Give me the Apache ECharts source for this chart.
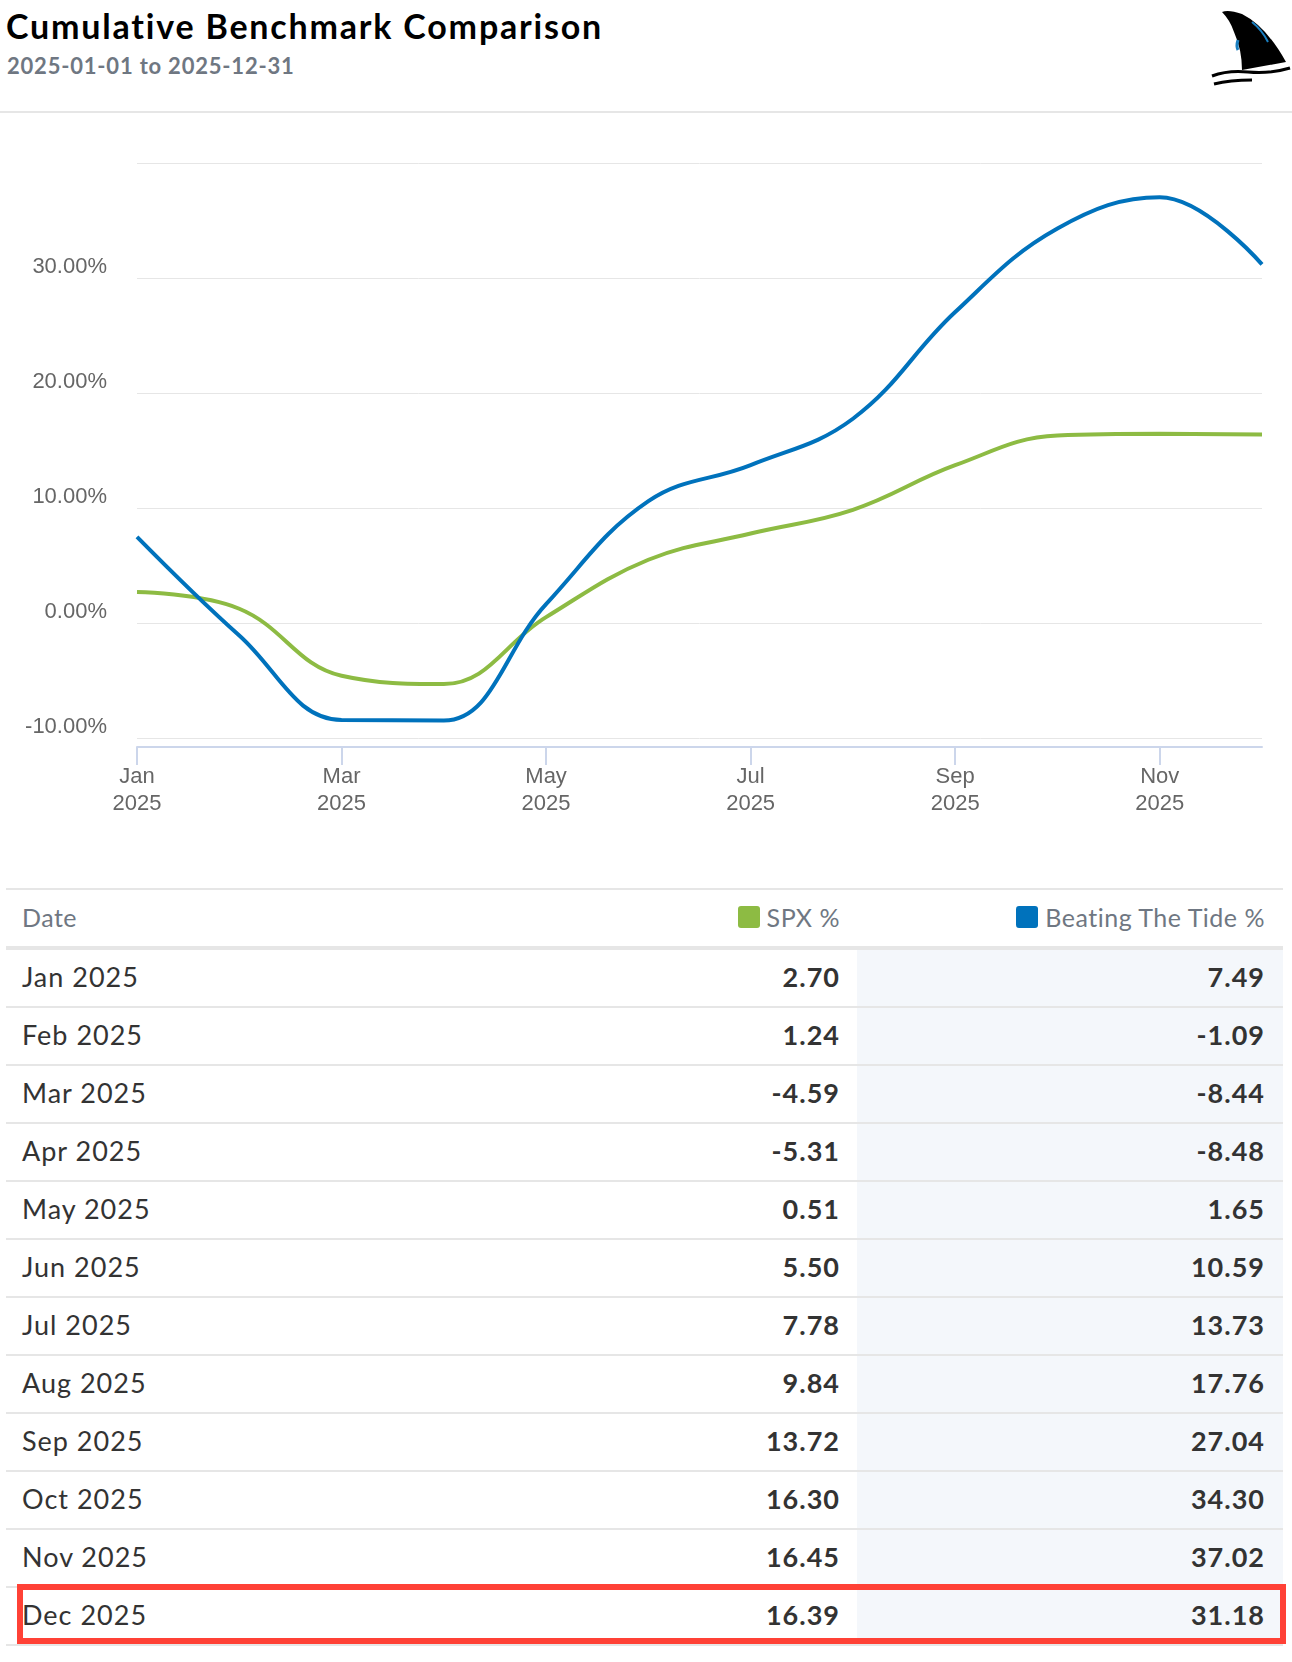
<!DOCTYPE html>
<html>
<head>
<meta charset="utf-8">
<script src="https://cdn.jsdelivr.net/npm/echarts@6/dist/echarts.min.js"></script>
<style>
  html, body { margin: 0; padding: 0; background: #fff; }
  body { width: 1292px; height: 1662px; position: relative; overflow: hidden; font-family: "Lato", "Noto Sans", sans-serif; }
  #title { position: absolute; left: 6px; top: 6px; line-height: 40px; font-size: 34px; letter-spacing: 1.8px; font-weight: 700; color: #000; white-space: nowrap; }
  #subtitle { position: absolute; left: 7px; top: 51px; line-height: 30px; font-size: 22px; letter-spacing: 0.8px; font-weight: 700; color: #6f7782; white-space: nowrap; }
  #sep { position: absolute; left: 0; top: 111px; width: 1292px; height: 2px; background: #e6e6e6; }
  #logo { position: absolute; left: 1208px; top: 6px; width: 84px; height: 84px; }
  #chart { position: absolute; left: 0; top: 120px; width: 1292px; height: 760px; }
  #tbl { position: absolute; left: 6px; top: 888px; width: 1277px; }
  .row { display: flex; align-items: stretch; border-bottom: 2px solid #e6e6e6; height: 56px; }
  .row.head { border-top: 2px solid #e6e6e6; border-bottom: 4px solid #e6e6e6; height: 56px; }
  .cell { display: flex; align-items: center; box-sizing: border-box; white-space: nowrap; }
  .c1 { width: 554px; justify-content: flex-start; padding-left: 16px; }
  .c2 { width: 297px; justify-content: flex-end; padding-right: 17px; }
  .c3 { width: 426px; justify-content: flex-end; padding-right: 18px; }
  .head .cell { font-size: 25px; letter-spacing: 0.5px; font-weight: 400; color: #6f7782; padding-bottom: 2px; }
  .body .cell { font-size: 27px; letter-spacing: 1px; color: #333; padding-bottom: 4px; }
  .body .c2, .body .c3 { font-weight: 700; }
  .body .c3 { background: #f4f7fb; }
  .sw { display: inline-block; width: 22px; height: 22px; border-radius: 3px; margin-right: 7px; }
  #hl { position: absolute; left: 17px; top: 1584px; width: 1269px; height: 60px; border: 6px solid #ff4136; box-sizing: border-box; pointer-events: none; }
</style>
</head>
<body>
<div id="title">Cumulative Benchmark Comparison</div>
<div id="subtitle">2025-01-01 to 2025-12-31</div>
<svg id="logo" viewBox="0 0 84 84" xmlns="http://www.w3.org/2000/svg">
  <path d="M14,6 Q20,3 34,8 Q58,20 78,56 Q56,60 34,64 Q34,44 26,26 Q22,14 14,6 Z" fill="#000"/>
  <path d="M44,16 Q54,24 60,36" stroke="#1a7fc1" stroke-width="2" fill="none"/>
  <path d="M30,34 Q28,40 30,44" stroke="#1a7fc1" stroke-width="3" fill="none"/>
  <path d="M4,70 Q20,64 40,66 Q62,68 82,62" stroke="#000" stroke-width="3" fill="none"/>
  <path d="M6,78 Q22,74 44,74" stroke="#000" stroke-width="3" fill="none"/>
</svg>
<div id="sep"></div>
<div id="chart"></div>
<div id="tbl">
  <div class="row head">
    <div class="cell c1">Date</div>
    <div class="cell c2"><span class="sw" style="background:#8dbb43"></span>SPX %</div>
    <div class="cell c3"><span class="sw" style="background:#0072bc"></span>Beating The Tide %</div>
  </div>
  <div id="tbody" class="body"></div>
</div>
<div id="hl"></div>
<script>
const months = ['Jan','Feb','Mar','Apr','May','Jun','Jul','Aug','Sep','Oct','Nov','Dec'];
const year = '2025';
const spxValues = [2.70, 1.24, -4.59, -5.31, 0.51, 5.50, 7.78, 9.84, 13.72, 16.30, 16.45, 16.39];
const bttValues = [7.49, -1.09, -8.44, -8.48, 1.65, 10.59, 13.73, 17.76, 27.04, 34.30, 37.02, 31.18];
const yMin = -10;
const yMax = 40;
const yStep = 10;

const tbody = document.getElementById('tbody');
months.forEach(function (m, i) {
  const row = document.createElement('div');
  row.className = 'row';
  row.innerHTML = '<div class="cell c1">' + m + ' ' + year + '</div>' +
    '<div class="cell c2">' + spxValues[i].toFixed(2) + '</div>' +
    '<div class="cell c3">' + bttValues[i].toFixed(2) + '</div>';
  tbody.appendChild(row);
});

const chart = echarts.init(document.getElementById('chart'), null, { renderer: 'canvas' });
chart.setOption({
  animation: false,
  grid: { left: 137, right: 30, top: 43, bottom: 142 },
  xAxis: {
    type: 'category',
    data: months,
    boundaryGap: false,
    offset: 9,
    axisLine: { onZero: false, lineStyle: { color: '#ccd6eb', width: 2 } },
    axisTick: { show: true, interval: 1, length: 18, lineStyle: { color: '#ccd6eb', width: 2 } },
    axisLabel: {
      interval: 1,
      margin: 16,
      color: '#666666',
      fontSize: 22,
      lineHeight: 27,
      fontFamily: 'Liberation Sans, Arial, sans-serif',
      formatter: function (v) { return v + '\n' + year; }
    },
    splitLine: { show: false }
  },
  yAxis: {
    type: 'value',
    min: yMin,
    max: yMax,
    interval: yStep,
    axisLine: { show: false },
    axisTick: { show: false },
    splitLine: { lineStyle: { color: '#e6e6e6', width: 1 } },
    axisLabel: {
      showMaxLabel: false,
      margin: 30,
      color: '#666666',
      fontSize: 22,
      lineHeight: 22,
      verticalAlign: 'bottom',
      fontFamily: 'Liberation Sans, Arial, sans-serif',
      formatter: function (v) { return v.toFixed(2) + '%'; }
    }
  },
  series: [
    {
      name: 'SPX %',
      type: 'line',
      data: spxValues,
      smooth: 0.4,
      symbol: 'none',
      lineStyle: { color: '#8dbb43', width: 4 },
      itemStyle: { color: '#8dbb43' }
    },
    {
      name: 'Beating The Tide %',
      type: 'line',
      data: bttValues,
      smooth: 0.4,
      symbol: 'none',
      lineStyle: { color: '#0072bc', width: 4 },
      itemStyle: { color: '#0072bc' }
    }
  ]
});
</script>
</body>
</html>
